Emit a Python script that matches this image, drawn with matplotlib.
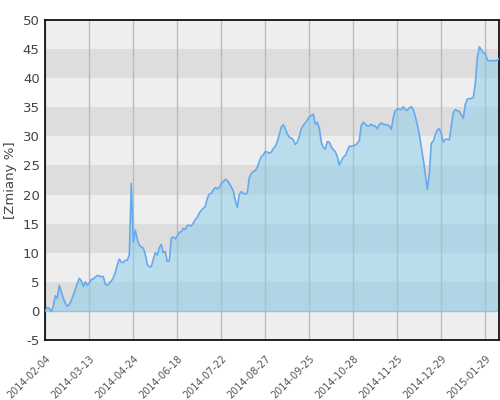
import matplotlib
matplotlib.use("Agg")
import matplotlib.pyplot as plt
import matplotlib.transforms as mtransforms
import numpy as np

values = [
    0.0, 0.6, 0.4, -0.1, 0.8, 2.6, 2.2, 4.4, 3.3, 2.2,
    1.3, 0.8, 1.1, 1.8, 2.7, 3.7, 4.7, 5.6, 5.2, 4.2,
    5.0, 4.4, 4.8, 5.4, 5.5, 5.8, 6.1, 6.0, 5.9, 5.9,
    4.6, 4.4, 4.8, 5.1, 5.7, 6.6, 7.9, 8.9, 8.4, 8.3,
    8.7, 8.7, 9.6, 21.9, 11.9, 13.9, 12.3, 11.3, 11.0, 10.8,
    9.7, 8.0, 7.6, 7.6, 8.9, 10.0, 9.6, 10.9, 11.4, 10.0,
    10.2, 8.5, 8.6, 12.5, 12.7, 12.4, 12.9, 13.5, 13.6, 14.2,
    14.0, 14.7, 14.7, 14.6, 15.1, 15.7, 16.1, 16.8, 17.3, 17.6,
    18.0, 19.3, 20.1, 20.2, 20.8, 21.2, 21.0, 21.2, 21.9, 22.2,
    22.6, 22.4, 21.9, 21.3, 20.6, 19.0, 17.8, 20.0, 20.5, 20.2,
    20.1, 20.3, 22.9, 23.6, 24.0, 24.1, 24.7, 25.7, 26.5, 26.8,
    27.4, 27.3, 27.1, 27.3, 27.9, 28.3, 29.1, 30.3, 31.6, 32.0,
    31.3, 30.4, 29.9, 29.7, 29.4, 28.6, 29.0, 30.0, 31.3, 31.9,
    32.3, 32.8, 33.3, 33.6, 33.8, 32.1, 32.4, 31.4, 29.0, 28.1,
    27.8, 29.1, 29.0, 28.2, 27.7, 27.4, 26.5, 25.1, 25.8, 26.4,
    26.7, 27.5, 28.3, 28.3, 28.4, 28.5, 28.8, 29.3, 31.9, 32.4,
    32.1, 31.8, 31.8, 32.1, 31.8, 31.8, 31.3, 32.0, 32.3, 32.1,
    32.0, 32.0, 31.8, 31.2, 33.2, 34.4, 34.7, 34.7, 34.6, 35.1,
    34.6, 34.5, 34.9, 35.1, 34.6, 33.4, 32.0, 30.3, 28.2, 26.0,
    23.5, 20.9, 23.5, 28.8, 29.2, 30.3, 31.1, 31.3, 30.5, 29.0,
    29.5, 29.5, 29.4, 31.8, 34.1, 34.6, 34.4, 34.3, 33.7, 33.1,
    35.5, 36.4, 36.5, 36.5, 36.7, 39.0, 43.5, 45.4, 44.9, 44.3,
    44.3, 43.1, 43.0, 43.0, 43.0, 43.0, 43.1, 43.4,
]
tick_labels = [
    "2014-02-04", "2014-03-13", "2014-04-24", "2014-06-18", "2014-07-22",
    "2014-08-27", "2014-09-25", "2014-10-28", "2014-11-25", "2014-12-29",
    "2015-01-29",
]
tick_step = 22
y_ticks = [-5, 0, 5, 10, 15, 20, 25, 30, 35, 40, 45, 50]

x = np.arange(len(values))

fig = plt.figure(figsize=(5, 4), dpi=100)
ax = fig.add_axes([0.0906, 0.15, 0.908, 0.80])

ax.set_xlim(0, len(values) - 1)
ax.set_ylim(-5, 50)

# alternating horizontal bands
for lo in y_ticks[:-1]:
    col = "#dddddd" if (lo // 5) % 2 == 0 else "#eeeeee"
    ax.axhspan(lo, lo + 5, color=col, lw=0, zorder=0)

ticks = [i * tick_step for i in range(len(tick_labels))]
for t in ticks:
    ax.axvline(t, color="#bbbbbb", lw=1, zorder=1)

ax.fill_between(x, 0, values, color="#87ceeb", alpha=0.5, lw=0, zorder=2)
ax.axhline(0, color="#8cc8e6", lw=1, zorder=2.5)
ax.plot(x, values, color="#66aaee", lw=1.2, zorder=3)

ax.set_xticks(ticks)
ax.set_xticklabels(tick_labels, rotation=45, ha="right", va="top",
                   rotation_mode="anchor", fontsize=7, color="#555555")
offset = mtransforms.ScaledTranslation(-5 / 100, 0, fig.dpi_scale_trans)
for lbl in ax.get_xticklabels():
    lbl.set_transform(lbl.get_transform() + offset)
ax.set_yticks(y_ticks)
ax.set_yticklabels([str(v) for v in y_ticks], fontsize=9.5, color="#444444")
ax.tick_params(axis="both", length=0, pad=4)
ax.tick_params(axis="x", pad=10)

for s in ax.spines.values():
    s.set_color("black")
    s.set_linewidth(1.2)

ax.set_ylabel("[Zmiany %]", fontsize=9.5, color="#444444", labelpad=4)

fig.savefig("out.png", dpi=100)
